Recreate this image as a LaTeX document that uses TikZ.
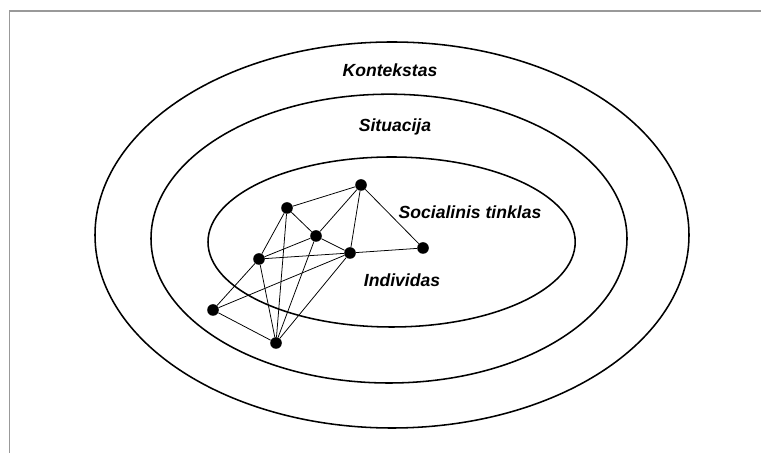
\documentclass[tikz,border=0pt]{standalone}
\usepackage{fontspec}
\setmainfont{Liberation Sans}
\begin{document}
\begin{tikzpicture}[every node/.style={font=\fontsize{12.5}{15}\selectfont\bfseries\itshape}]
  \tikzstyle{person}=[circle,fill=black,inner sep=0pt,minimum size=0.29cm]
  \tikzstyle{ring}=[draw=black,line width=1.1pt]
  \tikzstyle{tie}=[draw=black,line width=0.55pt]
  \useasboundingbox (0,0) rectangle (19.025,11.325);
  % frame
  \draw[gray!80,line width=0.9pt] (0.24,0) -- (0.24,11.05) -- (19.025,11.05);
  % levels
  \draw[ring] (9.8,5.45) ellipse (7.425 and 4.825);
  \draw[ring] (9.725,5.36) ellipse (5.95 and 3.61);
  \draw[ring] (9.79,5.275) ellipse (4.59 and 2.125);
  \node (kontekstas) at (9.75,9.575) {Kontekstas};
  \node (situacija) at (9.875,8.15) {Situacija};
  \node (tinklas) at (11.75,6.025) {Socialinis tinklas};
  \node (individas) at (10.05,4.325) {Individas};
  % network
  \node[person] (p1) at (9.025,6.7) {};
  \node[person] (p2) at (7.175,6.125) {};
  \node[person] (p3) at (7.9,5.425) {};
  \node[person] (p4) at (8.75,5.0) {};
  \node[person] (p5) at (10.575,5.125) {};
  \node[person] (p6) at (6.475,4.85) {};
  \node[person] (p7) at (5.325,3.575) {};
  \node[person] (p8) at (6.9,2.75) {};
  \draw[tie] (p2) -- (p1);
  \draw[tie] (p2) -- (p3);
  \draw[tie] (p2) -- (p6);
  \draw[tie] (p2) -- (p8);
  \draw[tie] (p1) -- (p3);
  \draw[tie] (p1) -- (p4);
  \draw[tie] (p1) -- (p5);
  \draw[tie] (p3) -- (p4);
  \draw[tie] (p3) -- (p6);
  \draw[tie] (p3) -- (p8);
  \draw[tie] (p4) -- (p5);
  \draw[tie] (p4) -- (p6);
  \draw[tie] (p4) -- (p7);
  \draw[tie] (p4) -- (p8);
  \draw[tie] (p6) -- (p7);
  \draw[tie] (p6) -- (p8);
  \draw[tie] (p7) -- (p8);
\end{tikzpicture}
\end{document}
